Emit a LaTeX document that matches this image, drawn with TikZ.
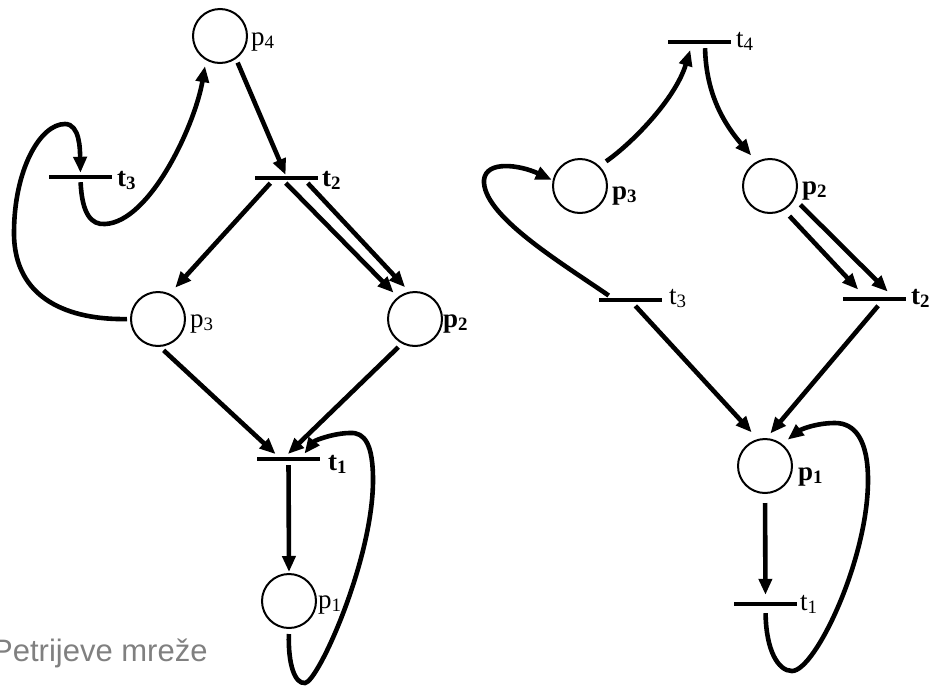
\documentclass[tikz,border=0pt]{standalone}
\usepackage{fontspec}
\newfontfamily\grayfont{Liberation Sans}
\newfontfamily\labfont{Liberation Serif}
\usetikzlibrary{arrows.meta}
\definecolor{captiongray}{RGB}{128,128,128}
\begin{document}
\begin{tikzpicture}[x=1pt,y=-1pt,
  place/.style={circle,draw,line width=2pt,minimum size=54pt,inner sep=0pt},
  trans/.style={rectangle,fill=black,minimum width=63pt,minimum height=4pt,inner sep=0pt},
  arc/.style={line width=4.6pt,-{Triangle[length=16pt,width=13pt]}},
  lab/.style={anchor=base west,inner sep=0pt,font=\labfont\fontsize{27}{31}\selectfont}]
\useasboundingbox (0,0) rectangle (932,686);

% ---------- left net ----------
\node[place] (p4)  at (220,36) {};
\node[place] (p3L) at (158,319) {};
\node[place] (p2L) at (415,319) {};
\node[place] (p1L) at (289,601) {};
\node[trans] (t3L) at (80.5,177) {};
\node[trans] (t2L) at (286,178) {};
\node[trans] (t1L) at (288.5,459) {};

\node[lab] (lp4)  at (251,45)  {p\textsubscript{4}};
\node[lab] (lt3L) at (117,186) {\textbf{t\textsubscript{3}}};
\node[lab] (lt2L) at (322,186) {\textbf{t\textsubscript{2}}};
\node[lab] (lp3L) at (190,327) {p\textsubscript{3}};
\node[lab] (lp2L) at (443,327) {\textbf{p\textsubscript{2}}};
\node[lab] (lt1L) at (328,470) {\textbf{t\textsubscript{1}}};
\node[lab] (lp1L) at (318,608) {p\textsubscript{1}};

\draw[arc,shorten <=3pt,shorten >=2pt] (p3L.180) .. controls (70,320) and (14,300) .. (14,233)
  .. controls (14,170) and (40,124) .. (65,124) .. controls (80,124) and (80,150) .. (t3L.north);
\draw[arc,shorten <=3pt,shorten >=6pt] (t3L.south) .. controls (82,215) and (92,225) .. (105,224)
  .. controls (150,222) and (195,125) .. (p4.240);
\draw[arc,shorten <=4pt,shorten >=1pt] (p4.305) -- (t2L.north);
\draw[arc,shorten <=4pt,shorten >=8pt] ([xshift=-13pt]t2L.south) -- (p3L.65);
\draw[arc,shorten <=4pt,shorten >=6pt] ([xshift=-3pt]t2L.south) -- (p2L.128);
\draw[arc,shorten <=4pt,shorten >=6pt] ([xshift=19pt]t2L.south) -- (p2L.102);
\draw[arc,shorten <=5pt,shorten >=4pt] (p3L.274) -- ([xshift=-10pt]t1L.north);
\draw[arc,shorten <=5pt,shorten >=4pt] (p2L.242) -- ([xshift=-3.5pt]t1L.north);
\draw[arc,shorten <=4pt,shorten >=1pt] (t1L.south) -- (p1L.north);
\draw[arc,shorten <=5pt,shorten >=4pt] (p1L.south) .. controls (288,665) and (295,684) .. (305,683)
  .. controls (318,682) and (373,560) .. (373,480) .. controls (373,445) and (365,432) .. (350,433)
  .. controls (335,433) and (315,440) .. ([xshift=13.5pt]t1L.north);

% ---------- right net ----------
\node[trans] (t4)  at (699,42) {};
\node[place] (p3R) at (580,186) {};
\node[place] (p2R) at (770,186) {};
\node[trans] (t3R) at (630,300) {};
\node[trans] (t2R) at (874.5,299) {};
\node[place] (p1R) at (765,466) {};
\node[trans] (t1R) at (765.5,604) {};

\node[lab] (lt4)  at (736,47)  {t\textsubscript{4}};
\node[lab] (lp3R) at (612,199) {\textbf{p\textsubscript{3}}};
\node[lab] (lp2R) at (802,194) {\textbf{p\textsubscript{2}}};
\node[lab] (lt3R) at (669,304) {t\textsubscript{3}};
\node[lab] (lt2R) at (911,304) {\textbf{t\textsubscript{2}}};
\node[lab] (lp1R) at (798,480) {\textbf{p\textsubscript{1}}};
\node[lab] (lt1R) at (800,610) {t\textsubscript{1}};

\draw[arc,shorten <=8pt,shorten >=6pt] (p3R.46) .. controls (630,145) and (675,100) .. ([xshift=-7pt]t4.south);
\draw[arc,shorten <=4pt,shorten >=8pt] ([xshift=6pt]t4.south) .. controls (706,95) and (725,125) .. (p2R.119);
\draw[arc,shorten <=8pt,shorten >=10pt] (p2R.300) -- ([xshift=-9.5pt]t2R.north);
\draw[arc,shorten <=8pt,shorten >=7.4pt] (p2R.332) -- ([xshift=18.5pt]t2R.north);
\draw[arc,shorten <=4pt,shorten >=1pt] ([xshift=-18pt]t3R.north) .. controls (560,262) and (482,215) .. (484,180)
  .. controls (486,160) and (520,165) .. (p3R.168);
\draw[arc,shorten <=5pt,shorten >=9pt] ([xshift=2pt]t3R.south) -- (p1R.105);
\draw[arc,shorten <=6pt,shorten >=6pt] ([xshift=7.5pt]t2R.south) -- (p1R.87);
\draw[arc,shorten <=9pt,shorten >=7pt] (p1R.south) -- (t1R.north);
\draw[arc,shorten <=7pt,shorten >=7pt] (t1R.south) .. controls (766,650) and (778,671) .. (792,671)
  .. controls (815,671) and (868,560) .. (868,480) .. controls (868,440) and (855,423) .. (835,423)
  .. controls (815,423) and (800,430) .. (p1R.52);

% ---------- caption ----------
\node[anchor=base west,inner sep=0pt,text=captiongray,font=\grayfont\fontsize{31}{36}\selectfont] (caption) at (-8,661) {Petrijeve mreže};
\end{tikzpicture}
\end{document}
